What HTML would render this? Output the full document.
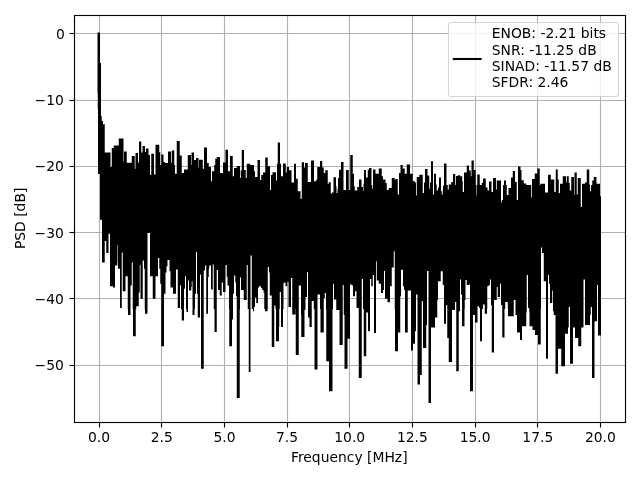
<!DOCTYPE html>
<html lang="en"><head><meta charset="utf-8"><title>PSD spectrum</title>
<style>html,body{margin:0;padding:0;background:#fff;overflow:hidden}svg{display:block}#fig{will-change:transform;transform:translateZ(0)}text{font-family:'DejaVu Sans','Liberation Sans',sans-serif;font-size:13.889px;fill:#000;white-space:pre}</style></head>
<body>
<svg id="fig" width="640" height="480" viewBox="0 0 640 480">
<rect x="0" y="0" width="640" height="480" fill="#fff"/>
<g stroke="#b0b0b0" stroke-width="1.111" fill="none">
<path d="M99.5 421.722 V15.000"/><path d="M161.5 421.722 V15.000"/><path d="M224.5 421.722 V15.000"/><path d="M287.5 421.722 V15.000"/><path d="M349.5 421.722 V15.000"/><path d="M412.5 421.722 V15.000"/><path d="M475.5 421.722 V15.000"/><path d="M537.5 421.722 V15.000"/><path d="M600.5 421.722 V15.000"/><path d="M73.528 33.5 H625.000"/><path d="M73.528 100.5 H625.000"/><path d="M73.528 166.5 H625.000"/><path d="M73.528 232.5 H625.000"/><path d="M73.528 298.5 H625.000"/><path d="M73.528 365.5 H625.000"/>
</g>
<svg x="73.528" y="15.000" width="551.472" height="406.722" viewBox="73.528 15.000 551.472 406.722" overflow="hidden">
<path d="M97.50 32.50H100.00V63.12H101.00V116.25H101.75V121.00H103.00V124.25H104.75V152.50H110.50V166.88H111.75V148.12H113.75V145.62H118.75V138.50H123.50V161.25H124.00V151.50H126.75V162.75H131.75V156.00H134.75V168.75H135.50V152.88H138.00V162.50H139.00V141.50H141.25V152.50H142.50V146.00H145.00V151.88H146.00V148.50H148.50V155.00H150.00V175.00H151.25V153.75H154.00V174.38H155.50V144.75H159.25V152.25H160.25V165.00H161.25V154.38H163.50V161.88H165.00V163.12H168.00V151.50H171.00V162.75H171.75V150.62H174.25V165.00H175.00V173.75H176.75V141.00H179.75V155.62H181.75V173.12H184.00V169.38H187.75V155.00H191.00V165.00H191.50V152.50H194.00V160.00H196.00V158.12H198.50V167.50H199.00V159.75H202.75V168.75H204.00V147.50H207.00V163.12H208.75V166.88H211.00V181.25H212.00V171.25H214.25V165.00H215.25V158.75H216.75V156.88H220.00V173.12H223.00V162.50H225.50V149.75H228.00V171.25H230.00V156.00H232.75V176.25H234.00V168.12H236.75V166.00H240.00V178.12H240.75V170.62H241.75V150.00H244.00V170.00H245.75V178.12H246.75V163.75H250.25V165.00H254.00V171.25H255.00V176.88H257.50V160.00H260.00V180.00H261.25V175.00H263.00V172.50H265.25V157.50H267.75V166.25H270.00V190.00H271.00V175.00H272.50V172.25H276.00V180.62H277.00V163.75H277.75V142.50H280.00V163.75H281.00V176.25H283.00V163.50H285.75V172.50H286.75V166.88H289.00V170.25H291.50V182.50H294.00V163.75H296.00V178.75H297.75V191.25H300.50V198.75H301.75V162.25H304.00V167.50H305.00V163.12H307.75V181.88H311.00V160.62H314.00V181.25H316.25V179.38H317.25V166.88H320.00V161.00H322.25V167.50H323.75V173.12H325.25V170.25H327.75V183.75H328.75V182.25H330.75V193.75H331.75V192.50H333.50V177.25H336.00V186.25H336.50V193.12H337.50V188.75H338.00V178.12H339.00V169.75H341.00V161.88H343.50V190.00H346.00V170.00H348.75V190.00H350.25V155.00H352.75V173.75H354.00V186.25H354.75V190.62H357.25V186.88H359.00V179.38H361.50V186.88H363.00V183.75H363.50V191.25H364.00V170.00H366.00V177.50H367.75V169.75H369.00V168.12H371.50V185.00H372.25V188.75H373.00V169.38H375.50V173.75H378.75V168.50H381.75V176.25H383.00V179.38H385.50V183.12H386.75V190.00H388.75V188.12H391.75V178.12H394.75V180.00H395.50V179.00H397.75V194.38H399.00V173.12H400.50V165.00H402.75V168.50H404.75V173.75H406.75V164.38H410.00V173.75H412.75V181.25H415.00V182.50H416.00V195.62H416.75V176.88H419.25V174.75H422.75V193.12H424.00V182.50H425.00V169.00H427.50V175.62H429.25V188.75H430.00V182.50H431.00V161.25H433.00V194.38H434.00V173.75H436.00V184.38H436.75V190.62H438.00V187.50H439.00V177.50H441.00V191.25H441.75V194.38H442.75V190.00H443.00V185.62H444.00V163.50H446.50V185.00H447.75V189.38H448.75V184.38H451.25V181.88H453.00V174.00H455.25V185.00H456.00V176.00H457.75V175.25H460.00V176.25H462.25V181.25H462.75V191.88H464.00V172.50H466.75V165.62H469.00V170.62H470.75V176.25H471.50V160.62H473.75V170.00H475.75V185.00H476.25V195.62H476.75V185.00H477.25V174.38H479.75V185.00H481.75V183.12H483.00V178.50H485.75V187.50H487.50V190.62H489.00V181.50H491.50V191.88H493.00V178.12H496.00V189.38H496.75V180.62H501.00V202.50H501.75V200.00H503.00V185.00H504.00V180.62H506.00V185.00H506.75V195.00H508.50V188.12H511.00V177.50H512.75V171.00H515.00V181.88H516.75V200.00H518.00V166.50H520.50V170.00H521.50V180.25H523.75V183.50H526.25V185.00H531.25V197.50H532.00V179.00H534.75V173.50H537.25V168.50H539.75V185.00H540.50V183.75H545.00V192.50H548.00V174.75H550.75V179.38H554.25V191.88H555.75V169.38H557.75V179.38H558.75V193.12H560.00V183.75H562.75V176.25H566.00V182.50H566.75V176.25H568.75V183.12H569.75V190.62H571.25V176.88H574.00V195.00H574.50V172.50H576.75V194.38H577.75V178.12H580.75V206.88H582.00V183.75H585.00V182.50H586.75V169.38H589.25V184.38H590.00V191.25H591.00V185.00H592.25V180.62H593.75V176.88H596.50V183.75H600.00V196.25H601.00V335.50H598.00V285.00H597.00V321.25H594.50V378.00H592.00V306.88H590.75V315.00H590.00V325.00H585.00V279.38H583.50V327.50H581.25V346.25H578.25V338.00H575.00V327.50H573.00V363.75H570.00V306.88H568.75V327.50H568.00V333.75H565.00V366.25H561.25V348.75H558.00V373.75H555.50V315.00H553.75V311.25H553.00V290.62H552.25V303.12H550.00V283.75H549.00V275.00H548.00V358.75H546.00V281.25H543.75V253.12H542.00V247.50H541.00V309.00H540.75V344.50H538.00V335.00H535.00V330.00H532.50V326.25H529.50V312.50H529.25V308.12H528.00V275.00H526.75V312.50H526.25V326.25H522.00V340.00H520.00V332.50H517.00V315.00H515.50V300.00H513.75V316.25H508.00V309.00H507.75V301.88H505.25V309.00H504.50V337.50H502.25V305.00H501.00V283.75H500.00V296.88H497.75V286.88H496.75V300.00H494.00V352.50H491.75V305.00H491.00V279.38H490.00V285.00H488.75V286.25H487.25V309.00H487.00V313.75H484.75V304.38H483.00V309.00H482.00V341.25H480.00V308.12H479.00V306.25H477.50V322.50H475.00V315.00H473.00V391.25H470.00V284.38H468.75V285.00H466.75V280.00H465.50V300.00H464.75V309.00H464.50V326.25H462.00V294.38H461.00V279.38H460.00V311.25H458.75V371.25H456.25V301.88H455.00V310.00H452.00V362.00H448.75V338.00H447.25V305.00H446.00V323.75H444.00V285.00H442.75V271.25H440.75V281.25H438.00V300.00H437.25V317.50H435.00V327.50H431.00V403.00H428.50V271.00H427.00V325.00H426.25V348.00H423.00V301.25H421.75V375.00H420.00V384.50H417.50V294.38H416.00V331.25H415.00V343.75H413.00V350.50H411.00V290.62H407.75V332.50H405.00V290.00H404.00V286.25H403.00V269.75H401.00V296.25H400.25V332.50H398.00V351.25H395.00V309.00H394.75V251.25H393.75V267.50H391.75V286.25H390.00V302.25H387.50V298.75H385.00V271.00H384.00V290.00H383.00V293.12H381.00V283.75H378.75V280.62H376.75V261.25H376.00V333.00H374.00V275.00H372.75V286.25H371.25V279.00H370.00V331.25H368.00V312.50H366.25V356.25H363.75V309.00H363.00V279.00H361.75V378.00H358.75V308.12H356.50V291.25H355.00V296.25H353.00V285.62H351.75V284.38H350.00V338.75H347.50V368.75H344.50V315.00H343.75V285.00H342.75V345.00H339.50V310.00H336.25V299.38H334.00V283.75H333.00V309.00H332.50V391.25H329.00V361.25H326.25V309.00H326.00V293.12H324.75V298.12H323.75V332.50H320.50V309.00H320.00V294.38H317.50V369.50H314.50V309.00H313.75V301.00H311.75V327.00H309.50V317.50H308.00V272.25H307.00V296.88H305.50V310.00H304.50V337.00H301.25V315.00H301.00V285.62H298.75V355.00H295.75V309.00H295.50V314.50H292.25V278.12H291.00V306.88H288.50V281.88H287.25V286.25H285.50V282.75H283.50V309.00H283.00V327.00H281.00V291.88H279.75V327.00H279.50V309.00H279.00V341.25H276.00V309.00H275.50V305.62H274.25V347.00H271.75V295.62H269.75V272.50H269.00V266.88H267.75V309.00H267.50V311.25H265.00V309.00H264.25V292.50H263.50V290.00H262.25V288.12H261.00V286.25H259.00V287.50H258.00V303.12H256.25V297.50H255.00V306.88H254.00V311.25H253.00V309.00H251.75V255.62H250.50V372.00H248.75V309.00H247.75V265.00H246.75V300.00H243.75V290.00H241.00V277.50H240.00V309.00H239.75V398.00H236.75V296.25H236.00V282.50H235.25V275.62H234.00V293.75H233.00V319.50H232.00V346.25H229.25V309.00H229.00V285.62H227.50V276.88H226.75V265.00H225.50V291.88H223.00V282.50H221.75V295.62H219.75V290.00H218.00V270.00H216.75V332.00H214.50V309.00H213.75V264.38H212.75V289.38H211.00V265.62H209.25V268.75H208.75V276.88H208.00V313.75H206.25V265.62H205.00V270.62H203.75V368.75H201.00V274.38H200.00V317.50H197.75V293.75H197.00V251.88H196.00V293.75H195.00V309.00H194.50V315.00H192.50V281.25H191.75V286.88H191.25V290.62H189.00V280.62H188.00V312.00H186.50V309.00H186.00V276.25H185.00V288.75H184.00V320.50H181.75V309.00H181.00V285.62H180.00V308.12H177.75V269.38H176.00V293.75H173.00V287.50H170.50V271.25H169.50V260.00H167.50V266.25H166.50V272.50H165.50V293.75H164.00V346.25H161.25V283.75H160.25V268.75H159.25V258.12H158.00V276.25H155.50V298.75H152.75V276.25H150.00V233.00H147.50V313.75H145.00V309.00H144.75V268.75H144.00V260.62H142.75V298.75H140.50V265.00H139.75V292.50H138.75V306.25H136.25V309.00H135.75V336.25H133.00V309.00H132.75V262.50H131.75V285.62H130.50V315.00H128.00V309.00H127.75V276.25H125.50V291.25H122.75V252.50H121.75V308.12H120.00V268.75H118.00V262.50H117.75V245.00H117.25V265.62H115.00V287.50H113.00V286.25H110.00V233.75H108.50V253.12H106.25V241.00H104.75V262.50H102.00V219.75H100.00V174.00H98.00V109.00H97.75V93.00H97.50Z" fill="#000" stroke="none"/>
</svg>
<g stroke="#000" stroke-width="1.111" fill="none">
<path d="M99.5 423.0 v4.5"/><path d="M161.5 423.0 v4.5"/><path d="M224.5 423.0 v4.5"/><path d="M287.5 423.0 v4.5"/><path d="M349.5 423.0 v4.5"/><path d="M412.5 423.0 v4.5"/><path d="M475.5 423.0 v4.5"/><path d="M537.5 423.0 v4.5"/><path d="M600.5 423.0 v4.5"/><path d="M74.0 33.5 h-4.5"/><path d="M74.0 100.5 h-4.5"/><path d="M74.0 166.5 h-4.5"/><path d="M74.0 232.5 h-4.5"/><path d="M74.0 298.5 h-4.5"/><path d="M74.0 365.5 h-4.5"/>
</g>
<rect x="74.5" y="15.5" width="551.0" height="407.0" fill="none" stroke="#000" stroke-width="1.111"/>
<g text-anchor="middle">
<text x="99.09" y="442.00">0.0</text><text x="161.76" y="442.00">2.5</text><text x="224.43" y="442.00">5.0</text><text x="287.10" y="442.00">7.5</text><text x="349.76" y="442.00">10.0</text><text x="412.43" y="442.00">12.5</text><text x="475.10" y="442.00">15.0</text><text x="537.77" y="442.00">17.5</text><text x="600.43" y="442.00">20.0</text>
<text x="349.26" y="461.50">Frequency [MHz]</text>
</g>
<g text-anchor="end">
<text x="64.81" y="39.00">0</text><text x="63.81" y="105.00">−10</text><text x="63.81" y="171.00">−20</text><text x="63.81" y="238.00">−30</text><text x="63.81" y="304.00">−40</text><text x="63.81" y="370.00">−50</text>
</g>
<text text-anchor="middle" transform="translate(24.50 218.36) rotate(-90)">PSD [dB]</text>
<rect x="448.500" y="22.500" width="170.000" height="74.000" rx="2.778" ry="2.778" fill="#fff" fill-opacity="0.8" stroke="#ccc" stroke-opacity="0.8" stroke-width="1.111"/>
<path d="M453.861 58.999 H480.6" stroke="#000" stroke-width="2.083" stroke-linecap="square" fill="none"/>
<text x="491.75" y="38.00">ENOB: -2.21 bits</text>
<text x="491.75" y="55.00">SNR: -11.25 dB</text>
<text x="491.75" y="71.00">SINAD: -11.57 dB</text>
<text x="491.75" y="87.00">SFDR: 2.46</text>
</svg>
</body></html>
